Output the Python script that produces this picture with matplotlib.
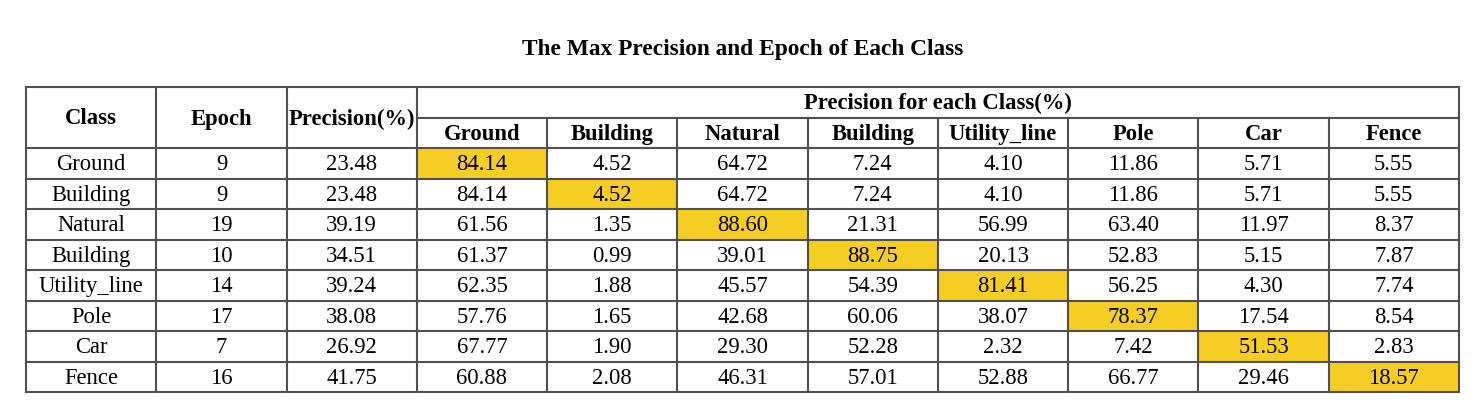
import matplotlib
matplotlib.use("Agg")
import matplotlib.pyplot as plt
from matplotlib.patches import Rectangle
import numpy as np

title = "The Max Precision and Epoch of Each Class"
classes = ["Ground", "Building", "Natural", "Building", "Utility_line", "Pole", "Car", "Fence"]
epochs = [9, 9, 19, 10, 14, 17, 7, 16]
precision = [23.48, 23.48, 39.19, 34.51, 39.24, 38.08, 26.92, 41.75]
col_headers = ["Ground", "Building", "Natural", "Building", "Utility_line", "Pole", "Car", "Fence"]
per_class = [
    [84.14, 4.52, 64.72, 7.24, 4.10, 11.86, 5.71, 5.55],
    [84.14, 4.52, 64.72, 7.24, 4.10, 11.86, 5.71, 5.55],
    [61.56, 1.35, 88.60, 21.31, 56.99, 63.40, 11.97, 8.37],
    [61.37, 0.99, 39.01, 88.75, 20.13, 52.83, 5.15, 7.87],
    [62.35, 1.88, 45.57, 54.39, 81.41, 56.25, 4.30, 7.74],
    [57.76, 1.65, 42.68, 60.06, 38.07, 78.37, 17.54, 8.54],
    [67.77, 1.90, 29.30, 52.28, 2.32, 7.42, 51.53, 2.83],
    [60.88, 2.08, 46.31, 57.01, 52.88, 66.77, 29.46, 18.57],
]
group_header = "Precision for each Class(%)"
left_headers = ["Class", "Epoch", "Precision(%)"]

W, H = 1479, 404
fig = plt.figure(figsize=(W / 100, H / 100), dpi=100)
ax = fig.add_axes([0, 0, 1, 1])
ax.set_xlim(0, W)
ax.set_ylim(H, 0)
ax.axis("off")

serif = ["Liberation Serif", "DejaVu Serif"]
xs = np.linspace(26, 1459, 12)
ys = np.linspace(87, 392, 11)
border = "#505050"
hl = "#F6CD23"
lw = 1.5
fs = 16.3
dy = 1.5

# highlight the diagonal cell (class's own precision) in each row
for i in range(len(classes)):
    ax.add_patch(Rectangle((xs[3 + i], ys[2 + i]), xs[4 + i] - xs[3 + i], ys[3 + i] - ys[2 + i],
                           facecolor=hl, edgecolor="none", zorder=1))

def cx(c):
    return (xs[c] + xs[c + 1]) / 2

def cy(r):
    return (ys[r] + ys[r + 1]) / 2 + dy

# headers
for c, t in enumerate(left_headers):
    ax.text(cx(c), ys[1] + dy, t, ha="center", va="center", fontsize=fs, fontweight="bold",
            family=serif, zorder=3)
ax.text((xs[3] + xs[11]) / 2, cy(0), group_header, ha="center", va="center", fontsize=fs,
        fontweight="bold", family=serif, zorder=3)
for j, t in enumerate(col_headers):
    ax.text(cx(3 + j), cy(1), t, ha="center", va="center", fontsize=fs, fontweight="bold",
            family=serif, zorder=3)

# body
for i in range(len(classes)):
    r = 2 + i
    ax.text(cx(0), cy(r), classes[i], ha="center", va="center", fontsize=fs, family=serif, zorder=3)
    ax.text(cx(1), cy(r), str(epochs[i]), ha="center", va="center", fontsize=fs, family=serif, zorder=3)
    ax.text(cx(2), cy(r), f"{precision[i]:.2f}", ha="center", va="center", fontsize=fs, family=serif, zorder=3)
    for j in range(len(col_headers)):
        ax.text(cx(3 + j), cy(r), f"{per_class[i][j]:.2f}", ha="center", va="center", fontsize=fs,
                family=serif, zorder=3)

# grid lines
kw = dict(color=border, lw=lw, zorder=2, solid_capstyle="projecting")
ax.plot([xs[0], xs[-1]], [ys[0], ys[0]], **kw)
ax.plot([xs[3], xs[-1]], [ys[1], ys[1]], **kw)
for y in ys[2:]:
    ax.plot([xs[0], xs[-1]], [y, y], **kw)
for k, x in enumerate(xs):
    if 4 <= k <= 10:
        ax.plot([x, x], [ys[1], ys[-1]], **kw)
    else:
        ax.plot([x, x], [ys[0], ys[-1]], **kw)

ax.text(W / 2 + 3, 49, title, ha="center", va="center", fontsize=16.8, fontweight="bold", family=serif)

fig.savefig("out.png", dpi=100)
